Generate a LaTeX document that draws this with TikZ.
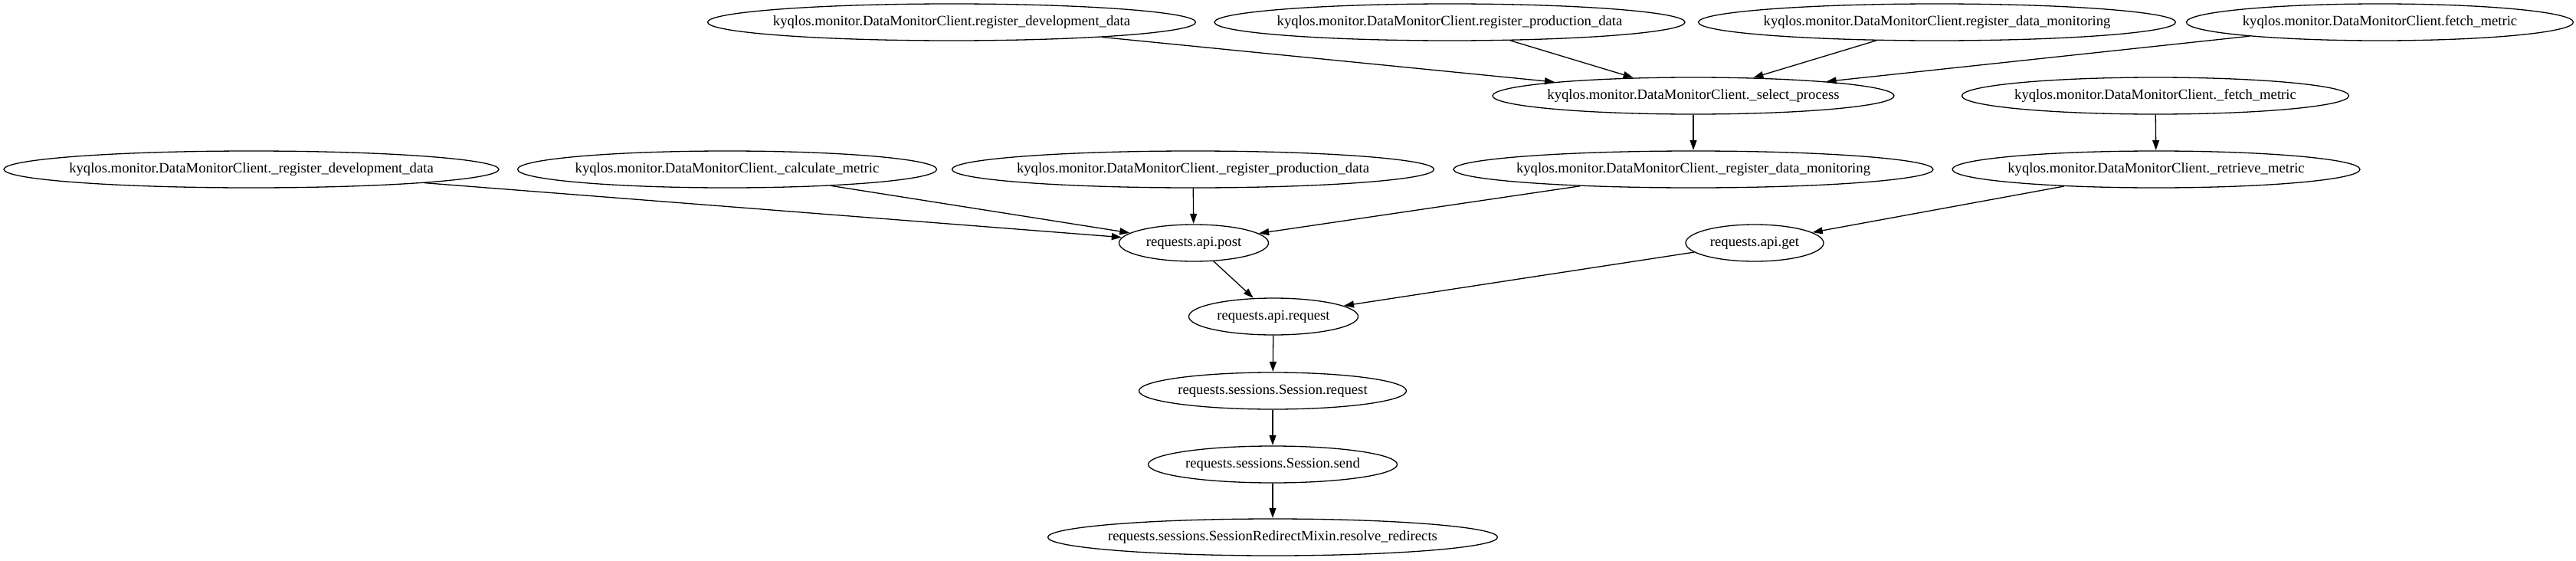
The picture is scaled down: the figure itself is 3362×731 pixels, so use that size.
\documentclass[tikz,border=0pt]{standalone}
\usepackage{fontspec}
\setmainfont{Liberation Serif}
\usetikzlibrary{arrows.meta,shapes.geometric}
\begin{document}
\begin{tikzpicture}[x=1pt,y=-1pt,
  fn/.style={draw, line width=1.3pt, ellipse, inner sep=0pt, minimum height=48pt, font=\fontsize{18.67}{22}\selectfont},
  call/.style={line width=1.3pt, -{Triangle[length=13pt,width=9pt]}, shorten >=0.5pt}]
\useasboundingbox[fill=white] (0,0) rectangle (3362,731);
\newcommand{\fnode}[4]{\node[fn, minimum width=#3pt] (#1) at #2 {\makebox[0pt]{#4}};}
\fnode{n1}{(1242,29)}{637}{kyqlos.monitor.DataMonitorClient.register\_development\_data}
\fnode{n2}{(1892,29)}{614}{kyqlos.monitor.DataMonitorClient.register\_production\_data}
\fnode{n3}{(2528,29)}{623}{kyqlos.monitor.DataMonitorClient.register\_data\_monitoring}
\fnode{n4}{(3106,29)}{505}{kyqlos.monitor.DataMonitorClient.fetch\_metric}
\fnode{s}{(2210,125)}{524}{kyqlos.monitor.DataMonitorClient.\_select\_process}
\fnode{f}{(2813,125)}{505}{kyqlos.monitor.DataMonitorClient.\_fetch\_metric}
\fnode{a}{(328,221)}{646}{kyqlos.monitor.DataMonitorClient.\_register\_development\_data}
\fnode{b}{(949,221)}{547}{kyqlos.monitor.DataMonitorClient.\_calculate\_metric}
\fnode{c}{(1557,221)}{629}{kyqlos.monitor.DataMonitorClient.\_register\_production\_data}
\fnode{d}{(2210,221)}{626}{kyqlos.monitor.DataMonitorClient.\_register\_data\_monitoring}
\fnode{r}{(2814,221)}{532}{kyqlos.monitor.DataMonitorClient.\_retrieve\_metric}
\fnode{p}{(1558,317)}{195}{requests.api.post}
\fnode{g}{(2290,317)}{180}{requests.api.get}
\fnode{q}{(1662,413)}{221}{requests.api.request}
\fnode{sr}{(1661,510)}{349}{requests.sessions.Session.request}
\fnode{ss}{(1661,606)}{325}{requests.sessions.Session.send}
\fnode{rr}{(1661,701)}{587}{requests.sessions.SessionRedirectMixin.resolve\_redirects}
\draw[call] (n1) -- (s);
\draw[call] (n2) -- (s);
\draw[call] (n3) -- (s);
\draw[call] (n4) -- (s);
\draw[call] (s) -- (d);
\draw[call] (f) -- (r);
\draw[call] (a) -- (p);
\draw[call] (b) -- (p);
\draw[call] (c) -- (p);
\draw[call] (d) -- (p);
\draw[call] (r) -- (g);
\draw[call] (p) -- (q);
\draw[call] (g) -- (q);
\draw[call] (q) -- (sr);
\draw[call] (sr) -- (ss);
\draw[call] (ss) -- (rr);
\end{tikzpicture}
\end{document}
